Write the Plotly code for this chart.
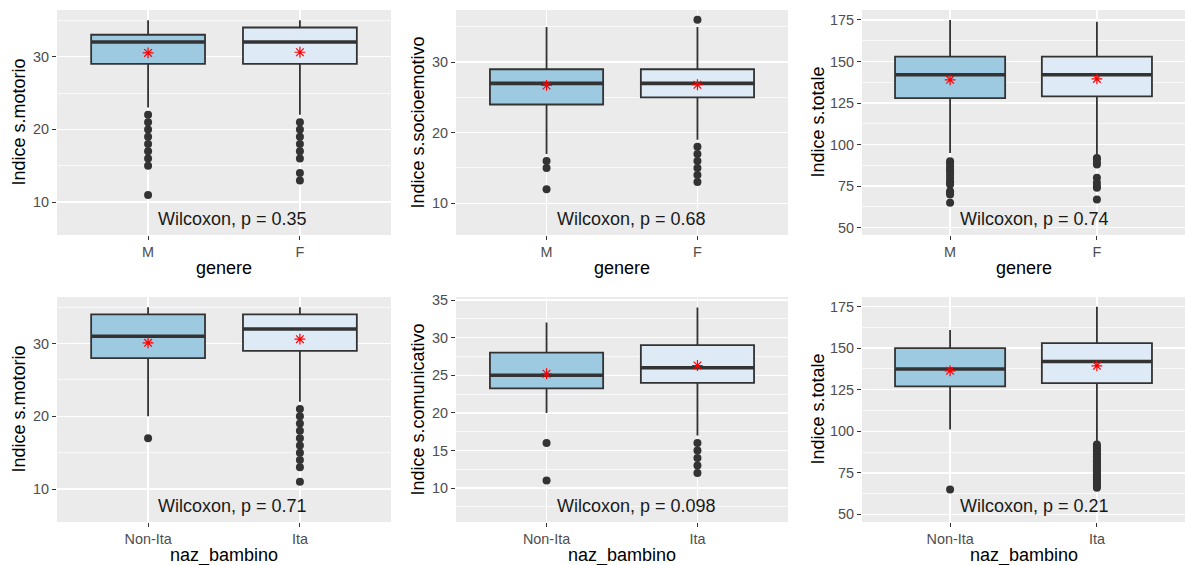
import plotly.graph_objects as go
from plotly.subplots import make_subplots

# ---------------- data ----------------
genere_cats = ["M", "F"]
naz_cats = ["Non-Ita", "Ita"]

# box stats per category: [lower whisker, Q1, median, Q3, upper whisker]
motorio_genere_box = [[23, 29, 32, 33, 35], [22, 29, 32, 34, 35]]
motorio_genere_mean = [30.5, 30.6]
motorio_genere_out = [[22, 21, 20, 19, 18, 17, 16, 15, 11], [21, 20, 19, 18, 17, 16, 14, 13]]
motorio_genere_p = "0.35"

socio_genere_box = [[17, 24, 27, 29, 35], [19, 25, 27, 29, 35]]
socio_genere_mean = [26.7, 26.8]
socio_genere_out = [[16, 15, 12], [36, 18, 17, 16, 15, 14, 13]]
socio_genere_p = "0.68"

totale_genere_box = [[95, 128, 142, 153, 175], [93, 129, 142, 153, 174]]
totale_genere_mean = [139.0, 139.5]
totale_genere_out = [[90, 89, 87, 85, 84, 82, 80, 78, 77, 76, 72, 71, 70, 65],
                     [92, 91, 89, 88, 80, 77, 75, 74, 67]]
totale_genere_p = "0.74"

motorio_naz_box = [[20, 28, 31, 34, 35], [22, 29, 32, 34, 35]]
motorio_naz_mean = [30.1, 30.6]
motorio_naz_out = [[17], [21, 20, 19, 18, 17, 16, 15, 14, 13, 11]]
motorio_naz_p = "0.71"

comun_naz_box = [[20, 23.25, 25, 28, 32], [17, 24, 26, 29, 34]]
comun_naz_mean = [25.2, 26.3]
comun_naz_out = [[16, 11], [16, 15, 14, 13, 12]]
comun_naz_p = "0.098"

totale_naz_box = [[101, 127, 137.5, 150, 161], [93, 129, 142, 153, 175]]
totale_naz_mean = [136.4, 139.4]
totale_naz_out = [[65], [92, 91, 90, 89, 88, 87, 86, 85, 84, 83, 82, 81, 80, 79, 78,
                         77, 76, 75, 74, 73, 72, 71, 70, 69, 68, 67, 66]]
totale_naz_p = "0.21"

y_titles = ["Indice s.motorio", "Indice s.socioemotivo", "Indice s.totale",
            "Indice s.motorio", "Indice s.comunicativo", "Indice s.totale"]
x_titles = ["genere", "genere", "genere", "naz_bambino", "naz_bambino", "naz_bambino"]

panels = [
    dict(cats=genere_cats, box=motorio_genere_box, mean=motorio_genere_mean, out=motorio_genere_out, p=motorio_genere_p),
    dict(cats=genere_cats, box=socio_genere_box, mean=socio_genere_mean, out=socio_genere_out, p=socio_genere_p),
    dict(cats=genere_cats, box=totale_genere_box, mean=totale_genere_mean, out=totale_genere_out, p=totale_genere_p),
    dict(cats=naz_cats, box=motorio_naz_box, mean=motorio_naz_mean, out=motorio_naz_out, p=motorio_naz_p),
    dict(cats=naz_cats, box=comun_naz_box, mean=comun_naz_mean, out=comun_naz_out, p=comun_naz_p),
    dict(cats=naz_cats, box=totale_naz_box, mean=totale_naz_mean, out=totale_naz_out, p=totale_naz_p),
]

# ---------------- layout / style ----------------
W, H = 1185, 565
FONT = "Liberation Sans, Arial, Helvetica, sans-serif"
fills = ["#9ECAE1", "#DEEBF7"]
EDGE = "#333333"
BOXW = 0.75

# pixel boxes of panels: (x0, x1)
col_px = [(57, 391), (456, 788), (862, 1185)]
row_px = [(10, 235), (297, 522)]
y_ranges = [[5.5, 36.4], [5.5, 37.4], [45.6, 181.0], [5.47, 36.4], [5.5, 35.4], [45.4, 180.8]]
y_dticks = [10, 10, 25, 10, 5, 25]
y_title_x = [18, 417, 817]

fig = make_subplots(rows=2, cols=3)

for i, p in enumerate(panels):
    row, col = i // 3 + 1, i % 3 + 1
    for j in range(2):
        lo, q1, med, q3, hi = p["box"][j]
        fig.add_trace(go.Box(
            x=[j], q1=[q1], median=[med], q3=[q3], lowerfence=[lo], upperfence=[hi],
            width=BOXW, fillcolor=fills[j], line=dict(color=EDGE, width=1.8),
            whiskerwidth=0, boxpoints=False, showlegend=False, hoverinfo="skip"),
            row=row, col=col)
        fig.add_trace(go.Scatter(
            x=[j - BOXW / 2, j + BOXW / 2], y=[med, med], mode="lines",
            line=dict(color=EDGE, width=3.6), showlegend=False, hoverinfo="skip"),
            row=row, col=col)
        outs = p["out"][j]
        fig.add_trace(go.Scatter(
            x=[j] * len(outs), y=outs, mode="markers",
            marker=dict(color=EDGE, size=8, line=dict(width=0)),
            showlegend=False, hoverinfo="skip"), row=row, col=col)
        fig.add_trace(go.Scatter(
            x=[j], y=[p["mean"][j]], mode="markers",
            marker=dict(symbol="asterisk-open", size=9, color="red",
                        line=dict(color="#F2212B", width=1.2)),
            showlegend=False, hoverinfo="skip"), row=row, col=col)

    x0, x1 = col_px[col - 1]
    y0, y1 = row_px[row - 1]
    sfx = "" if i == 0 else str(i + 1)
    dt = y_dticks[i]
    fig.layout["xaxis" + sfx].update(
        domain=[x0 / W, x1 / W], range=[-0.6, 1.6], automargin=False,
        tickvals=[0, 1], ticktext=p["cats"],
        showgrid=True, gridcolor="white", gridwidth=1.5, zeroline=False,
        ticks="outside", ticklen=4, tickwidth=1, tickcolor=EDGE,
        tickfont=dict(family=FONT, size=14.4, color="#4D4D4D"),
        showline=False, fixedrange=True)
    fig.layout["yaxis" + sfx].update(
        domain=[1 - y1 / H, 1 - y0 / H], range=y_ranges[i], automargin=False,
        tick0=0, dtick=dt,
        minor=dict(tick0=0, dtick=dt / 2, showgrid=True, gridcolor="white", gridwidth=0.7),
        showgrid=True, gridcolor="white", gridwidth=1.5, zeroline=False,
        ticks="outside", ticklen=4, tickwidth=1, tickcolor=EDGE,
        tickfont=dict(family=FONT, size=14.4, color="#4D4D4D"),
        showline=False, fixedrange=True)

    # axis titles
    fig.add_annotation(
        x=(x0 + x1) / 2 / W, y=1 - (268 if row == 1 else 555) / H,
        xref="paper", yref="paper", text=x_titles[i], showarrow=False,
        font=dict(family=FONT, size=18, color="black"),
        xanchor="center", yanchor="middle")
    fig.add_annotation(
        x=y_title_x[col - 1] / W, y=1 - (y0 + y1) / 2 / H,
        xref="paper", yref="paper", text=y_titles[i], showarrow=False, textangle=-90,
        font=dict(family=FONT, size=18, color="black"),
        xanchor="center", yanchor="middle")
    # test label
    fig.add_annotation(
        x=0.055, y=0.072, xref="x" + sfx, yref="y" + sfx + " domain",
        text="Wilcoxon, p = " + p["p"], showarrow=False,
        font=dict(family=FONT, size=18, color="#1A1A1A"),
        xanchor="left", yanchor="middle")

fig.update_layout(
    template="none",
    width=W, height=H, margin=dict(l=0, r=0, t=0, b=0, autoexpand=False),
    paper_bgcolor="white", plot_bgcolor="#EBEBEB",
    showlegend=False, boxmode="overlay", font=dict(family=FONT),
    hovermode=False)

fig.write_html(
    "out.html",
    config={"displayModeBar": False, "staticPlot": True},
    post_script="document.body.style.margin='0px';document.body.style.overflow='hidden';",
)
